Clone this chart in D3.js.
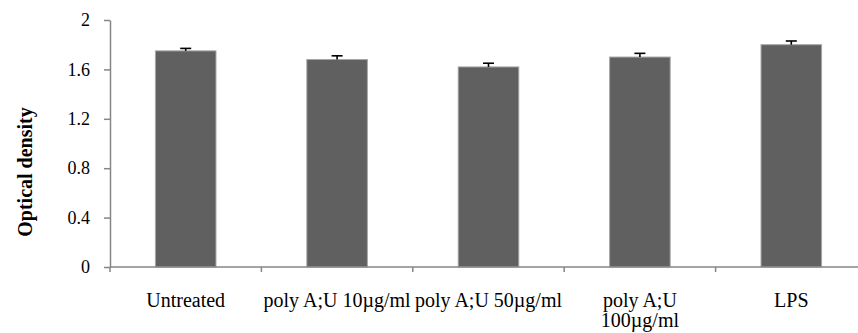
<!DOCTYPE html>
<html>
<head>
<meta charset="utf-8">
<script src="https://cdn.jsdelivr.net/npm/d3@7"></script>
<style>
  html, body { margin: 0; padding: 0; background: #fff; }
  svg { display: block; font-family: "Liberation Serif", "Times New Roman", serif; }
</style>
</head>
<body>
<svg id="chart" width="858" height="333"></svg>
<script>
// data
const categories = ['Untreated', 'poly A;U 10µg/ml', 'poly A;U 50µg/ml', 'poly A;U 100µg/ml', 'LPS'];
// label lines (the 100µg/ml one wraps in the original)
const labelLines = [['Untreated'], ['poly A;U 10µg/ml'], ['poly A;U 50µg/ml'], ['poly A;U', '100µg/ml'], ['LPS']];
const values = [1.75, 1.68, 1.62, 1.70, 1.80];
const errors = [0.02, 0.03, 0.03, 0.03, 0.03];
const yTicks = [0, 0.4, 0.8, 1.2, 1.6, 2];

const svg = d3.select('#chart');
const axisColor = '#868686';

const x = d3.scaleBand().domain(categories).range([110, 867]).paddingInner(0.6).paddingOuter(0.3);
const y = d3.scaleLinear().domain([0, 2]).range([267, 20]);

// y axis
const yAxis = svg.append('g').attr('transform', 'translate(110,0)')
  .call(d3.axisLeft(y).tickValues(yTicks).tickFormat(d3.format('')).tickSize(6).tickSizeOuter(0));
yAxis.select('.domain').attr('stroke', axisColor).attr('stroke-width', 1.5);
yAxis.selectAll('.tick line').attr('stroke', axisColor).attr('stroke-width', 1.5);
yAxis.selectAll('.tick text').attr('font-size', 18).attr('fill', '#000').attr('x', -20)
  .attr('font-family', '"Liberation Serif", serif');

// bars
svg.append('g').selectAll('rect')
  .data(values).join('rect')
  .attr('x', (d, i) => x(categories[i]))
  .attr('y', d => y(d))
  .attr('width', x.bandwidth())
  .attr('height', d => y(0) - y(d))
  .attr('fill', '#606060')
  .attr('stroke', '#a6a6a6').attr('stroke-width', 1);

// error bars
const err = svg.append('g').attr('stroke', '#000').attr('stroke-width', 1.6);
values.forEach((v, i) => {
  const cx = x(categories[i]) + x.bandwidth() / 2;
  err.append('line').attr('x1', cx).attr('x2', cx).attr('y1', y(v)).attr('y2', y(v + errors[i]));
  err.append('line').attr('x1', cx - 5.5).attr('x2', cx + 5.5).attr('y1', y(v + errors[i])).attr('y2', y(v + errors[i]));
});

// x axis line + ticks at band boundaries
const xg = svg.append('g');
xg.append('line').attr('x1', 110).attr('x2', 867).attr('y1', y(0)).attr('y2', y(0))
  .attr('stroke', axisColor).attr('stroke-width', 1.5);
const step = x.step();
const bounds = d3.range(categories.length + 1).map(i => x(categories[0]) - x.paddingOuter() * step - x.paddingInner() * step / 2 + i * step + step * x.paddingInner() / 2);
xg.selectAll('line.tk').data(bounds).join('line').attr('class', 'tk')
  .attr('x1', d => d).attr('x2', d => d).attr('y1', y(0)).attr('y2', y(0) + 5)
  .attr('stroke', axisColor).attr('stroke-width', 1.5);

// category labels
const lab = svg.append('g').attr('font-size', 20).attr('text-anchor', 'middle').attr('fill', '#000');
labelLines.forEach((lines, i) => {
  const t = lab.append('text').attr('x', x(categories[i]) + x.bandwidth() / 2).attr('y', 307);
  lines.forEach((s, j) => t.append('tspan').attr('x', x(categories[i]) + x.bandwidth() / 2).attr('dy', j ? 20 : 0).text(s));
});

// y title
svg.append('text')
  .attr('transform', 'translate(32,172) rotate(-90)')
  .attr('text-anchor', 'middle')
  .attr('font-size', 20).attr('font-weight', 'bold')
  .text('Optical density');
</script>
</body>
</html>
